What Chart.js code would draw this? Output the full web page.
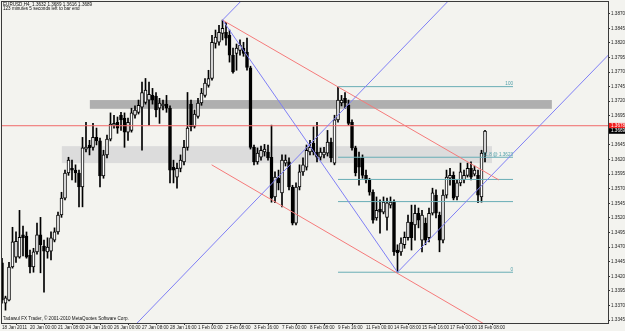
<!DOCTYPE html>
<html><head><meta charset="utf-8">
<script src="https://cdn.jsdelivr.net/npm/chart.js@4"></script>
<style>html,body{margin:0;padding:0;background:#f3f3ef;overflow:hidden}canvas{display:block}</style>
</head><body>
<canvas id="c" width="625" height="331"></canvas>
<script>
// ---------- text ----------
const headerLine = 'EURUSD,H4  1.3632 1.3689 1.3616 1.3689';
const timerLine = '123 minutes 5 seconds left to bar end';
const footerLine = 'Tadawul FX Trader, \u00A9 2001-2010 MetaQuotes Software Corp.';

// ---------- axes ----------
const timeLabels = ['18 Jan 2011','20 Jan 00:00','21 Jan 08:00','24 Jan 16:00','26 Jan 00:00','27 Jan 08:00','28 Jan 16:00','1 Feb 00:00','2 Feb 08:00','3 Feb 16:00','7 Feb 00:00','8 Feb 08:00','9 Feb 16:00','11 Feb 00:00','14 Feb 08:00','15 Feb 16:00','17 Feb 00:00','18 Feb 08:00'];
const barsPerLabel = 8;
const priceTicks = [1.3870,1.3845,1.3820,1.3795,1.3770,1.3745,1.3720,1.3695,1.3670,1.3645,1.3620,1.3595,1.3570,1.3545,1.3520,1.3495,1.3470,1.3445,1.3420,1.3395,1.3370,1.3345];

// ---------- H4 candles ----------
const opens = [1.3443,1.3374,1.3379,1.3436,1.3453,1.3453,1.3491,1.3489,1.3456,1.3436,1.3462,1.3491,1.3472,1.3462,1.3463,1.3482,1.3496,1.3525,1.3554,1.3597,1.3605,1.3602,1.3597,1.3573,1.3638,1.3645,1.3641,1.3658,1.3652,1.3592,1.3628,1.3655,1.3679,1.3684,1.3696,1.3691,1.3667,1.3670,1.3696,1.3701,1.3710,1.3718,1.3722,1.3730,1.3729,1.3708,1.3712,1.3715,1.3708,1.3607,1.3590,1.3605,1.3616,1.3641,1.3715,1.3677,1.3694,1.3717,1.3730,1.3747,1.3759,1.3819,1.3821,1.3836,1.3838,1.3833,1.3799,1.3802,1.3807,1.3811,1.3804,1.3777,1.3641,1.3616,1.3624,1.3633,1.3633,1.3624,1.3556,1.3588,1.3563,1.3614,1.3616,1.3573,1.3511,1.3573,1.3599,1.3607,1.3633,1.3648,1.3633,1.3624,1.3628,1.3631,1.3650,1.3614,1.3688,1.3717,1.3725,1.3713,1.3684,1.3640,1.3623,1.3623,1.3593,1.3585,1.3564,1.3520,1.3535,1.3530,1.3521,1.3542,1.3547,1.3465,1.3462,1.3474,1.3486,1.3513,1.3508,1.3528,1.3482,1.3511,1.3486,1.3528,1.3559,1.3525,1.3482,1.3559,1.3588,1.3593,1.3556,1.3580,1.3585,1.3593,1.3605,1.3595,1.3593,1.3556,1.3631];
const highs = [1.3451,1.3386,1.3444,1.3504,1.3496,1.3533,1.3506,1.3496,1.3465,1.3468,1.3511,1.3521,1.3482,1.3486,1.3496,1.3503,1.3530,1.3564,1.3602,1.3624,1.3619,1.3611,1.3602,1.3658,1.3684,1.3653,1.3682,1.3674,1.3657,1.3636,1.3662,1.3700,1.3696,1.3693,1.3701,1.3700,1.3691,1.3708,1.3712,1.3722,1.3753,1.3759,1.3753,1.3742,1.3735,1.3725,1.3722,1.3730,1.3712,1.3619,1.3614,1.3628,1.3653,1.3735,1.3722,1.3705,1.3725,1.3742,1.3759,1.3773,1.3833,1.3842,1.3850,1.3859,1.3855,1.3842,1.3811,1.3818,1.3825,1.3821,1.3828,1.3780,1.3645,1.3640,1.3643,1.3646,1.3645,1.3679,1.3599,1.3602,1.3628,1.3628,1.3623,1.3576,1.3580,1.3611,1.3623,1.3645,1.3653,1.3676,1.3684,1.3640,1.3641,1.3670,1.3657,1.3696,1.3744,1.3730,1.3735,1.3722,1.3688,1.3643,1.3633,1.3628,1.3602,1.3588,1.3568,1.3556,1.3551,1.3556,1.3554,1.3556,1.3551,1.3474,1.3486,1.3496,1.3525,1.3542,1.3542,1.3537,1.3533,1.3520,1.3537,1.3571,1.3568,1.3530,1.3568,1.3602,1.3605,1.3599,1.3585,1.3614,1.3602,1.3614,1.3616,1.3609,1.3602,1.3636,1.3670];
const lows = [1.3374,1.3362,1.3378,1.3434,1.3444,1.3451,1.3455,1.3451,1.3426,1.3427,1.3458,1.3426,1.3393,1.3451,1.3448,1.3479,1.3492,1.3521,1.3551,1.3593,1.3585,1.3581,1.3539,1.3539,1.3633,1.3628,1.3636,1.3645,1.3573,1.3588,1.3623,1.3652,1.3674,1.3665,1.3670,1.3641,1.3653,1.3667,1.3691,1.3698,1.3636,1.3715,1.3679,1.3715,1.3693,1.3682,1.3705,1.3701,1.3580,1.3580,1.3571,1.3599,1.3611,1.3636,1.3669,1.3674,1.3691,1.3713,1.3727,1.3744,1.3756,1.3811,1.3816,1.3825,1.3816,1.3787,1.3768,1.3773,1.3799,1.3797,1.3773,1.3638,1.3611,1.3612,1.3619,1.3626,1.3619,1.3547,1.3546,1.3568,1.3539,1.3609,1.3568,1.3508,1.3508,1.3568,1.3593,1.3602,1.3628,1.3628,1.3616,1.3619,1.3623,1.3626,1.3616,1.3611,1.3684,1.3712,1.3708,1.3679,1.3636,1.3592,1.3576,1.3588,1.3580,1.3559,1.3511,1.3516,1.3494,1.3527,1.3499,1.3537,1.3456,1.3427,1.3456,1.3468,1.3482,1.3465,1.3482,1.3503,1.3462,1.3474,1.3479,1.3525,1.3520,1.3462,1.3477,1.3554,1.3576,1.3551,1.3551,1.3575,1.3580,1.3590,1.3585,1.3592,1.3546,1.3547,1.3616];
const closes = [1.3379,1.3383,1.3436,1.3479,1.3480,1.3487,1.3486,1.3453,1.3436,1.3462,1.3491,1.3474,1.3463,1.3470,1.3486,1.3496,1.3525,1.3554,1.3597,1.3619,1.3602,1.3597,1.3573,1.3640,1.3641,1.3640,1.3658,1.3652,1.3592,1.3628,1.3655,1.3681,1.3682,1.3674,1.3688,1.3667,1.3684,1.3700,1.3705,1.3713,1.3735,1.3739,1.3732,1.3722,1.3705,1.3717,1.3715,1.3708,1.3602,1.3602,1.3605,1.3619,1.3641,1.3674,1.3676,1.3698,1.3717,1.3734,1.3751,1.3759,1.3821,1.3830,1.3838,1.3845,1.3828,1.3799,1.3770,1.3811,1.3816,1.3802,1.3778,1.3641,1.3616,1.3631,1.3636,1.3638,1.3623,1.3554,1.3590,1.3580,1.3619,1.3619,1.3573,1.3511,1.3573,1.3599,1.3611,1.3636,1.3641,1.3633,1.3624,1.3633,1.3633,1.3650,1.3623,1.3688,1.3722,1.3722,1.3717,1.3682,1.3640,1.3597,1.3607,1.3593,1.3585,1.3564,1.3516,1.3533,1.3530,1.3547,1.3546,1.3547,1.3462,1.3460,1.3477,1.3487,1.3513,1.3486,1.3528,1.3516,1.3525,1.3482,1.3528,1.3563,1.3528,1.3482,1.3559,1.3590,1.3593,1.3554,1.3580,1.3599,1.3593,1.3605,1.3590,1.3602,1.3559,1.3631,1.3669];
const bidPrice = 1.3669;

// ---------- drawn objects (bar index, price) ----------
const zigzagDown = [[63,1.3859],[113,1.3427]];
const channelUpLow = [[113,1.3427],[175,1.3810]];
const channelUpMid = [[37,1.3330],[129,1.3901]];
const channelUpTop = [[63,1.3859],[70,1.3902]];
const channelDownTop = [[63,1.3859],[142,1.3585]];
const channelDownLow = [[59.9,1.3611],[139,1.3334]];
const alertLevel = 1.3678;
const alertSpan = [-2,176];
// Fibonacci retracement
const fibSpan = [96,146];
const fibPrices = [1.3745,1.3624,1.3586,1.3548,1.3427];
const fibTexts = ['100','61.8 @ 1.3623','','','0'];
// supply/demand zones
const zoneFrom = [25.1,17.1];
const zoneTo = [157.1,140];
const zoneHigh = [1.3722,1.3643];
const zoneLow = [1.3707,1.3614];

// ---------- styles ----------
const FONT = 'Liberation Sans';
const blue = '#7f7ff5', red = '#f57a7a', teal = '#68adb5';
const zoneColors = ['#afafaf','#dcdcdc'];

const idx = opens.map((_, i) => i);
const wickData = idx.map(i => ({x: i, y: [lows[i], highs[i]]}));
const bodyData = idx.map(i => ({x: i, y: [opens[i], closes[i]]}));
const bodyFill = idx.map(i => closes[i] >= opens[i] ? '#ffffff' : '#000000');

function seg(pts, color) {
  return {type:'line', data: pts.map(p => ({x:p[0], y:p[1]})), borderColor: color, borderWidth: 1,
    pointRadius: 0, fill: false, tension: 0, order: 0};
}
const lineSets = [
  seg(zigzagDown, blue), seg(channelUpLow, blue), seg(channelUpMid, blue), seg(channelUpTop, blue),
  seg(channelDownTop, red), seg(channelDownLow, red),
  seg([[alertSpan[0], alertLevel],[alertSpan[1], alertLevel]], '#f06a6a')
];
fibPrices.forEach(p => lineSets.push(seg([[fibSpan[0], p],[fibSpan[1], p]], teal)));

const overlay = {
  id: 'overlay',
  beforeDatasetsDraw(chart) {
    const {ctx, chartArea: a, scales: {x, y}} = chart;
    ctx.save();
    ctx.beginPath(); ctx.rect(a.left, a.top, a.width, a.height); ctx.clip();
    zoneFrom.forEach((f, k) => {
      const x1 = x.getPixelForValue(f), x2 = x.getPixelForValue(zoneTo[k]);
      const y1 = y.getPixelForValue(zoneHigh[k]), y2 = y.getPixelForValue(zoneLow[k]);
      ctx.fillStyle = zoneColors[k];
      ctx.fillRect(x1, y1, x2 - x1, y2 - y1);
    });
    ctx.restore();
  },
  afterDraw(chart) {
    const {ctx, chartArea: a, scales: {x, y}} = chart;
    ctx.save();
    // frame
    ctx.strokeStyle = '#3a3a3a'; ctx.lineWidth = 1;
    ctx.strokeRect(a.left - 0.5, a.top - 0.5, a.width + 1, a.height + 1);
    // header / footer
    ctx.fillStyle = '#111'; ctx.font = '4.6px "' + FONT + '"';
    ctx.textAlign = 'left'; ctx.textBaseline = 'middle';
    ctx.fillText(headerLine, 3, 4.8);
    ctx.fillText(timerLine, 3, 9);
    ctx.fillText(footerLine, 3, 319);
    // fib labels
    ctx.fillStyle = '#4f9fa8'; ctx.textAlign = 'right'; ctx.textBaseline = 'bottom';
    fibPrices.forEach((p, k) => {
      if (fibTexts[k]) ctx.fillText(fibTexts[k], x.getPixelForValue(fibSpan[1]), y.getPixelForValue(p) - 0.5);
    });
    // price boxes on axis
    ctx.textAlign = 'left'; ctx.textBaseline = 'middle';
    const ya = y.getPixelForValue(alertLevel);
    ctx.fillStyle = '#f01e1e'; ctx.fillRect(a.right + 1, ya - 2.8, 16, 5.6);
    ctx.fillStyle = '#fff'; ctx.fillText(alertLevel.toFixed(4), a.right + 3, ya);
    const yb = y.getPixelForValue(bidPrice);
    ctx.fillStyle = '#000'; ctx.fillRect(a.right + 1, yb - 2.8, 16, 5.6);
    ctx.fillStyle = '#fff'; ctx.fillText(bidPrice.toFixed(4), a.right + 3, yb);
    ctx.restore();
  }
};

new Chart(document.getElementById('c'), {
  type: 'bar',
  data: {
    datasets: [
      ...lineSets,
      {type:'bar', data: bodyData, backgroundColor: bodyFill, borderColor: '#000', borderWidth: 1,
       borderSkipped: false, barThickness: 3, grouped: false, order: 1},
      {type:'bar', data: wickData, backgroundColor: '#000', borderWidth: 0,
       barThickness: 1, grouped: false, order: 2}
    ]
  },
  options: {
    responsive: false, animation: false, devicePixelRatio: 1, events: [],
    layout: {padding: {left: 2, top: 2, right: 0, bottom: 0}},
    plugins: {legend: {display: false}, tooltip: {enabled: false}, title: {display: false}},
    scales: {
      x: {
        type: 'linear', min: 0, max: 173.14, offset: false, position: 'bottom',
        afterBuildTicks: s => { s.ticks = timeLabels.map((_, k) => ({value: k * barsPerLabel})); },
        afterFit: s => { s.height = 8; s.paddingLeft = 0; s.paddingRight = 0; },
        ticks: {align: 'start', maxRotation: 0, minRotation: 0, autoSkip: false, padding: 0,
          color: '#222', font: {family: FONT, size: 4.6},
          callback: v => timeLabels[Math.round(v / barsPerLabel)] || ''},
        grid: {drawOnChartArea: false, drawTicks: true, tickLength: 2, color: '#333'},
        border: {display: false}
      },
      y: {
        type: 'linear', position: 'right', min: 1.3340, max: 1.3890,
        afterBuildTicks: s => { s.ticks = priceTicks.map(v => ({value: v})); },
        afterFit: s => { s.width = 17; s.paddingTop = 0; s.paddingBottom = 0; },
        ticks: {padding: 1, color: '#222', font: {family: FONT, size: 4.6},
          callback: v => Number(v).toFixed(4)},
        grid: {drawOnChartArea: false, drawTicks: true, tickLength: 2, color: '#333'},
        border: {display: false}
      }
    }
  },
  plugins: [overlay]
});
</script>
</body></html>
